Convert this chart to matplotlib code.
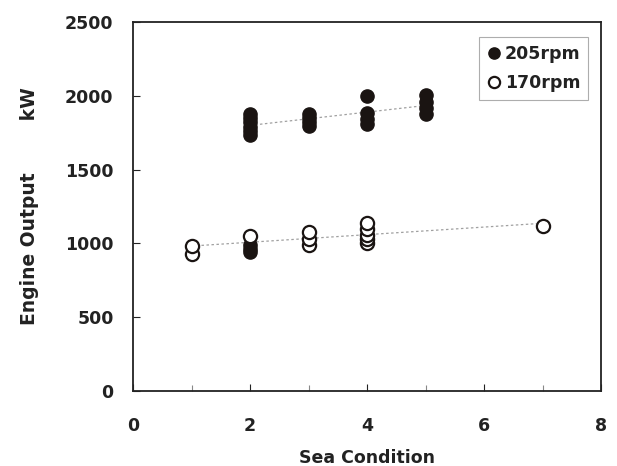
import numpy as np
import matplotlib
matplotlib.use("Agg")
import matplotlib.pyplot as plt

plt.rcParams['font.family'] = ['DejaVu Sans']

# 205 rpm (filled)
x205 = [2, 2, 2, 2, 2, 2, 3, 3, 3, 3, 4, 4, 4, 4, 5, 5, 5, 5]
y205 = [1735, 1760, 1790, 1820, 1850, 1875, 1795, 1820, 1850, 1875,
        1810, 1840, 1885, 2000, 1880, 1920, 1960, 2005]
# filled points in the lower cluster
x205_low = [2, 2, 2]
y205_low = [940, 965, 990]
# 170 rpm (open)
x170 = [1, 1, 2, 3, 3, 3, 4, 4, 4, 4, 4, 7]
y170 = [930, 985, 1050, 990, 1030, 1080, 1000, 1030, 1060, 1100, 1135, 1115]

xticks = [0, 2, 4, 6, 8]
yticks = [0, 500, 1000, 1500, 2000, 2500]

W, H = 617, 466
fig = plt.figure(figsize=(W / 100, H / 100), dpi=100)
L, R, B, T = 133, 601, 391, 22
ax = fig.add_axes([L / W, 1 - B / H, (R - L) / W, (B - T) / H])

tc = '#222222'
# trend lines
for xs, ys in [(x205, y205), (x170, y170)]:
    c = np.polyfit(xs, ys, 1)
    xl = np.array([min(xs), max(xs)])
    ax.plot(xl, np.polyval(c, xl), color='#a0a0a0', lw=0.9, ls=(0, (2, 2)), zorder=1)

ax.plot(x205, y205, 'o', ms=9.5, mfc='#1a1412', mec='#1a1412', ls='none', label='205rpm', zorder=3)
ax.plot(x205_low, y205_low, 'o', ms=9.5, mfc='#1a1412', mec='#1a1412', ls='none', zorder=3)
ax.plot(x170, y170, 'o', ms=9.5, mfc='white', mec='#1a1412', mew=1.6, ls='none', label='170rpm', zorder=4)

ax.set_xlim(0, 8)
ax.set_ylim(0, 2500)
ax.set_xticks(xticks)
ax.set_yticks(yticks)
ax.set_xticks([1, 3, 5, 7], minor=True)
ax.tick_params(direction='in', length=5, width=0.8, labelsize=12.5, colors=tc)
ax.tick_params(axis='x', pad=19)
ax.tick_params(axis='y', pad=14)
ax.tick_params(which='minor', direction='in', length=4, width=0.8, color='#888888')
for lab in ax.get_xticklabels() + ax.get_yticklabels():
    lab.set_fontweight('bold')
for s in ax.spines.values():
    s.set_linewidth(1.3)
    s.set_color(tc)

ax.set_xlabel('Sea Condition', fontsize=12.5, fontweight='bold', color=tc, labelpad=10)
ax.set_ylabel('Engine Output        kW', fontsize=13.5, fontweight='bold', color=tc, labelpad=19)

leg = ax.legend(loc='upper right', bbox_to_anchor=((588 - L) / (R - L), (B - 37) / (B - T)),
                fontsize=12.5, frameon=True, fancybox=False, edgecolor='#999999',
                markerscale=0.85, handletextpad=0.15, handlelength=0.9, borderpad=0.45,
                labelspacing=0.65, borderaxespad=0)
leg.get_frame().set_linewidth(0.8)
for t in leg.get_texts():
    t.set_fontweight('bold')
    t.set_color(tc)

fig.savefig('out.png', dpi=100)
